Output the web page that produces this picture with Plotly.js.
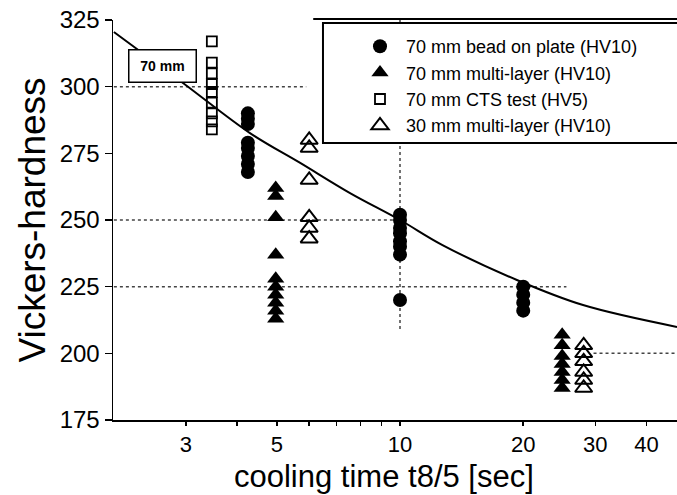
<!DOCTYPE html>
<html>
<head>
<meta charset="utf-8">
<script src="https://cdn.plot.ly/plotly-3.0.1.min.js"></script>
<style>
html,body{margin:0;padding:0;background:#fff;}
#chart{width:677px;height:495px;}
</style>
</head>
<body>
<div id="chart"></div>
<script>
// ---- data ----
var beadX = [4.25,4.25,4.25,4.25,4.25,4.25,4.25,4.25, 10,10,10,10,10,10,10,10, 20,20,20,20];
var beadY = [290,288,286,279,277,274,271,268, 252,250,247,245,242,240,237,220, 225,222,219,216];

var multiX = [4.97,4.97,4.97,4.97,4.97,4.97,4.97,4.97,4.97,4.97, 24.9,24.9,24.9,24.9,24.9,24.9,24.9];
var multiY = [262,259,251,237,228,225,222,219,216,213, 207,203,199,196,193,190,187];

var ctsX = [3.47,3.47,3.47,3.47,3.47,3.47,3.47,3.47,3.47];
var ctsY = [317,309,305,301,298,294,290,287,284];

var thinX = [6,6,6,6,6,6, 28.1,28.1,28.1,28.1,28.1,28.1];
var thinY = [280,277,265,251,247,243, 203,200,197,193,190,187];

var curveX = [2, 2.95, 4.3, 5.69, 7.55, 10, 12.7, 19.3, 28, 47.5];
var curveY = [320.5, 301.4, 282.6, 271.5, 260.1, 250, 240.6, 227.5, 218.1, 209.9];

// dotted grid fragments visible in the scan
var grid300X = [2, 5.9],  grid300Y = [300, 300];
var grid250X = [2, 10],   grid250Y = [250, 250];
var grid225X = [2, 25.5], grid225Y = [225, 225];
var grid200X = [29.7, 47.5], grid200Y = [200, 200];
var gridV10X = [10, 10],  gridV10Y = [325, 209];

var xTickVals = [3,4,5,6,7,8,9,10,20,30,40];
var xTickText = ['3','','5','','','','','10','20','30','40'];
var yTickVals = [175,200,225,250,275,300,325];

var xTitle = 'cooling time t8/5 [sec]';
var yTitle = 'Vickers-hardness';
var boxLabel = '70 mm';
var legendNames = ['70 mm bead on plate (HV10)','70 mm multi-layer (HV10)','70 mm CTS test (HV5)','30 mm multi-layer (HV10)'];

var FONT = '"Liberation Sans", Arial, Helvetica, sans-serif';

function gridTrace(x, y){
  return {x:x, y:y, mode:'lines', type:'scatter', showlegend:false, hoverinfo:'skip',
          line:{color:'#444', width:1.5, dash:'dot'}};
}

var traces = [
  gridTrace(grid300X, grid300Y),
  gridTrace(grid250X, grid250Y),
  gridTrace(grid225X, grid225Y),
  gridTrace(grid200X, grid200Y),
  gridTrace(gridV10X, gridV10Y),
  {x:curveX, y:curveY, mode:'lines', type:'scatter', showlegend:false, hoverinfo:'skip',
   line:{color:'#000', width:2, shape:'spline'}},
  {x:beadX, y:beadY, mode:'markers', type:'scatter', name:legendNames[0],
   marker:{symbol:'circle', size:14, color:'#000'}},
  {x:multiX, y:multiY, mode:'markers', type:'scatter', name:legendNames[1],
   marker:{symbol:'triangle-up', size:15, color:'#000'}},
  {x:ctsX, y:ctsY, mode:'markers', type:'scatter', name:legendNames[2],
   marker:{symbol:'square-open', size:10, color:'#000', line:{width:1.8, color:'#000'}}},
  {x:thinX, y:thinY, mode:'markers', type:'scatter', name:legendNames[3],
   marker:{symbol:'triangle-up-open', size:15, color:'#000', line:{width:2, color:'#000'}}}
];

var layout = {
  width:677, height:495,
  margin:{l:113, r:0, t:20, b:75, pad:0},
  paper_bgcolor:'#fff', plot_bgcolor:'#fff',
  font:{family:FONT, color:'#000'},
  showlegend:true,
  legend:{x:0.4273, y:0.98, xanchor:'left', yanchor:'top', bgcolor:'rgba(0,0,0,0)',
          borderwidth:0, itemwidth:42, font:{size:18, family:FONT, color:'#000'}, tracegroupgap:0},
  xaxis:{type:'log', range:[Math.log10(1.99), Math.log10(47.5)],
         tickvals:xTickVals, ticktext:xTickText, ticks:'outside', ticklen:4, tickwidth:1.5,
         tickcolor:'#000', showline:true, linecolor:'#000', linewidth:2, showgrid:false,
         zeroline:false, tickfont:{size:22, family:FONT}},
  yaxis:{range:[175,325], tickvals:yTickVals, ticks:'outside', ticklen:7, tickwidth:1.5,
         tickcolor:'#000', showline:true, linecolor:'#000', linewidth:1.5, showgrid:false,
         zeroline:false, tickfont:{size:24, family:FONT},
         title:{text:yTitle, font:{size:37, family:FONT}, standoff:2}},
  shapes:[
    {type:'rect', xref:'paper', yref:'paper', x0:0.3723, x1:1.05, y0:0.6925, y1:0.9925,
     line:{color:'#000', width:2}, fillcolor:'#fff', layer:'above'},
    {type:'line', xref:'paper', yref:'paper', x0:0.355, x1:1.05, y0:1.0025, y1:1.0025,
     line:{color:'#000', width:2}, layer:'above'}
  ],
  annotations:[
    {xref:'paper', yref:'paper', x:0.0878, y:0.886, text:'<b>' + boxLabel + '</b>', showarrow:false,
     font:{size:14, family:FONT, color:'#000'}, bgcolor:'#fff', bordercolor:'#000',
     borderwidth:1.5, borderpad:1, width:64, height:29, xanchor:'center', yanchor:'middle'},
    {xref:'paper', yref:'paper', x:0.48, y:-0.142, text:xTitle, showarrow:false,
     font:{size:31, family:FONT, color:'#000'}, xanchor:'center', yanchor:'middle'}
  ]
};

Plotly.newPlot('chart', traces, layout, {displayModeBar:false, staticPlot:true});
</script>
</body>
</html>
